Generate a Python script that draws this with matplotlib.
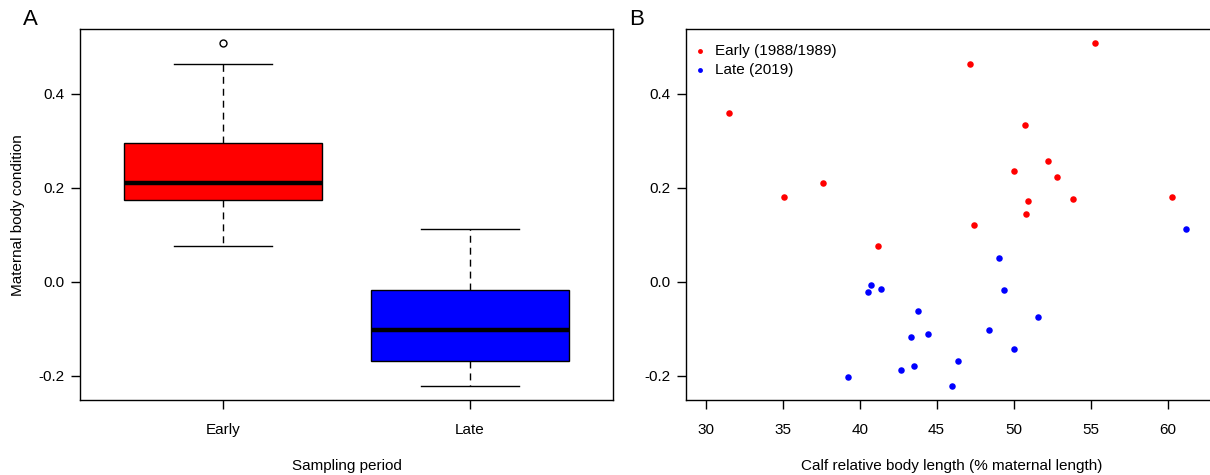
import matplotlib
matplotlib.use("Agg")
import matplotlib.pyplot as plt

plt.rcParams['font.family'] = ['Liberation Sans', 'DejaVu Sans']

# body condition of mothers
early_length = [55.26, 47.16, 31.49, 50.76, 52.25, 50.01, 52.82, 37.64,
                35.07, 50.93, 53.85, 60.26, 50.80, 47.42, 41.17]
early_condition = [0.507, 0.463, 0.358, 0.334, 0.256, 0.235, 0.223, 0.210,
                   0.180, 0.171, 0.176, 0.180, 0.145, 0.121, 0.076]

late_length = [61.22, 49.05, 40.75, 40.55, 41.37, 49.35, 43.80, 51.58, 48.39,
               44.42, 43.32, 50.04, 46.37, 43.54, 42.71, 39.26, 46.00]
late_condition = [0.112, 0.050, -0.007, -0.022, -0.015, -0.018, -0.062, -0.074,
                  -0.102, -0.111, -0.117, -0.142, -0.169, -0.180, -0.187, -0.202, -0.222]

periods = ['Early', 'Late']
legend_labels = ['Early (1988/1989)', 'Late (2019)']
y_ticks = [-0.2, 0.0, 0.2, 0.4]
x_ticks = [30, 35, 40, 45, 50, 55, 60]

W, H = 1210, 475
fig = plt.figure(figsize=(W / 100, H / 100), dpi=100)

ax1 = fig.add_axes([80 / W, 75 / H, 533 / W, 370.5 / H])
ax2 = fig.add_axes([686 / W, 75 / H, 532 / W, 370.5 / H])

ylim = (-0.2512, 0.5362)


def style_axis(ax):
    for sp in ax.spines.values():
        sp.set_linewidth(1.0)
        sp.set_color('black')
    ax.tick_params(axis='both', length=6.5, width=1.0, labelsize=11, colors='black')
    ax.tick_params(axis='x', pad=10)
    ax.tick_params(axis='y', pad=5)
    ax.set_ylim(*ylim)
    ax.set_yticks(y_ticks)
    ax.set_yticklabels(['-0.2', '0.0', '0.2', '0.4'])


# panel A - boxplot
bp = ax1.boxplot([early_condition, late_condition], positions=[1, 2], widths=0.8,
                 whis=1.5, patch_artist=True,
                 medianprops=dict(color='black', linewidth=3.2),
                 whiskerprops=dict(color='black', linewidth=1.0, linestyle=(0, (5, 3.6))),
                 capprops=dict(color='black', linewidth=1.0),
                 flierprops=dict(marker='o', markersize=5, markerfacecolor='none',
                                 markeredgecolor='black', markeredgewidth=1.0),
                 boxprops=dict(edgecolor='black', linewidth=1.0))
for patch, col in zip(bp['boxes'], ['#ff0000', '#0000ff']):
    patch.set_facecolor(col)
for cap in bp['caps']:
    x0, x1 = cap.get_xdata()
    mid = (x0 + x1) / 2
    cap.set_xdata([mid - 0.2, mid + 0.2])

ax1.set_xlim(0.42, 2.58)
ax1.set_xticks([1, 2])
ax1.set_xticklabels(periods)
style_axis(ax1)
ax1.set_xlabel('Sampling period', fontsize=11, labelpad=16)
ax1.set_ylabel('Maternal body condition', fontsize=11, labelpad=9)

# panel B - scatter
ax2.scatter(early_length, early_condition, s=22, color='#ff0000', linewidths=0,
            label=legend_labels[0], zorder=3)
ax2.scatter(late_length, late_condition, s=22, color='#0000ff', linewidths=0,
            label=legend_labels[1], zorder=3)
ax2.set_xlim(28.72, 63.28)
ax2.set_xticks(x_ticks)
style_axis(ax2)
ax2.set_xlabel('Calf relative body length (% maternal length)', fontsize=11, labelpad=16)
ax2.legend(loc='upper left', bbox_to_anchor=(0, 1 - 4 / 370.5), frameon=False, fontsize=11,
           handlelength=0.4, handletextpad=0.8, labelspacing=0.3, markerscale=0.75,
           borderaxespad=0.2, borderpad=0.5, scatterpoints=1)

fig.text(23 / W, 1 - 25 / H, 'A', fontsize=16, ha='left', va='baseline')
fig.text(629 / W, 1 - 25 / H, 'B', fontsize=16, ha='left', va='baseline')

fig.savefig('out.png', dpi=100)
